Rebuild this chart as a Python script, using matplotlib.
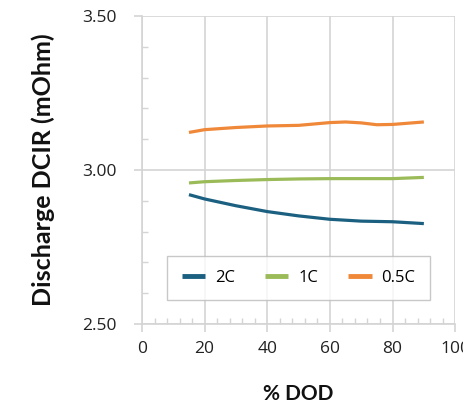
import matplotlib.pyplot as plt
from matplotlib.ticker import MultipleLocator

# Data -------------------------------------------------------------------------

dod = [15, 20, 30, 40, 50, 60, 65, 70, 75, 80, 90]

dcir_2c = [2.920, 2.906, 2.884, 2.865, 2.851, 2.840, 2.837, 2.834, 2.833, 2.832, 2.826]
dcir_1c = [2.958, 2.962, 2.966, 2.969, 2.971, 2.972, 2.972, 2.972, 2.972, 2.972, 2.976]
dcir_05c = [3.122, 3.131, 3.138, 3.143, 3.145, 3.154, 3.156, 3.153, 3.147, 3.148, 3.156]

labels = ["2C", "1C", "0.5C"]
colors = ["#1b6080", "#9bbb59", "#f0883a"]

# Plot -------------------------------------------------------------------------

fig = plt.figure(figsize=(4.64, 4.11), dpi=100)
ax = fig.add_axes([0.306, 0.2117, 0.675, 0.7493])

for y, lab, c in zip([dcir_2c, dcir_1c, dcir_05c], labels, colors):
    ax.plot(dod, y, color=c, linewidth=2.3, label=lab, solid_capstyle="butt")

ax.set_xlim(0, 100)
ax.set_ylim(2.5, 3.5)
ax.xaxis.set_major_locator(MultipleLocator(20))
ax.xaxis.set_minor_locator(MultipleLocator(4))
ax.yaxis.set_major_locator(MultipleLocator(0.5))
ax.yaxis.set_minor_locator(MultipleLocator(0.1))
ax.set_yticks([2.5, 3.0, 3.5])
ax.set_yticklabels(["2.50", "3.00", "3.50"])

grid_col = "#d4d4d4"
ax.grid(True, which="major", color=grid_col, linewidth=1.2)
ax.set_axisbelow(True)
for s in ["top", "right"]:
    ax.spines[s].set_visible(False)
for s in ["left", "bottom"]:
    ax.spines[s].set_color(grid_col)
    ax.spines[s].set_linewidth(1.2)

ax.tick_params(which="major", direction="out", length=6, width=1.2, color=grid_col,
               labelsize=12.5, labelcolor="#222222", pad=6)
ax.tick_params(which="minor", direction="in", length=4, width=1, color=grid_col)
ax.tick_params(axis="y", which="major", pad=12)
for t in ax.get_xticklabels() + ax.get_yticklabels():
    t.set_family("Open Sans")

ax.set_ylabel("Discharge DCIR (mOhm)", fontsize=18, fontweight="bold", family="Lato",
              color="#111111", labelpad=20)
ax.set_xlabel("% DOD", fontsize=15, fontweight="bold", family="Lato",
              color="#111111", labelpad=20)

leg = ax.legend(loc="lower center", bbox_to_anchor=(0.5, 0.078), ncol=3, frameon=True,
                fancybox=False, handlelength=1.4, handletextpad=0.6, columnspacing=1.8,
                borderpad=0.85, borderaxespad=0, prop={"family": "Open Sans", "size": 12})
leg.get_frame().set_edgecolor("#bbbbbb")
leg.get_frame().set_linewidth(1.0)
for line in leg.get_lines():
    line.set_linewidth(3.5)

plt.savefig("out.png", dpi=100)
